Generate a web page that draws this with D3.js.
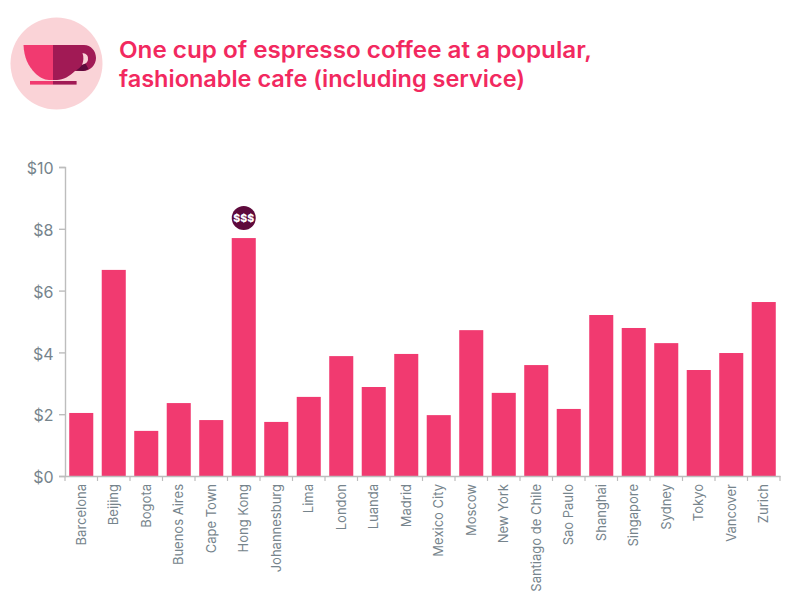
<!DOCTYPE html>
<html><head><meta charset="utf-8">
<script src="https://cdn.jsdelivr.net/npm/d3@7"></script>
<style>html,body{margin:0;padding:0;background:#fff}svg{display:block}</style>
</head><body><svg id="c" width="800" height="600"></svg>
<script>
const titleLines = ["One cup of espresso coffee at a popular,", "fashionable cafe (including service)"];
const cities = ["Barcelona","Beijing","Bogota","Buenos Aires","Cape Town","Hong Kong","Johannesburg","Lima","London","Luanda","Madrid","Mexico City","Moscow","New York","Santiago de Chile","Sao Paulo","Shanghai","Singapore","Sydney","Tokyo","Vancover","Zurich"];
const prices = [2.04,6.67,1.46,2.36,1.81,7.7,1.75,2.56,3.88,2.88,3.95,1.97,4.72,2.69,3.59,2.17,5.21,4.79,4.3,3.43,3.98,5.63];
const yTicks = [0,2,4,6,8,10];
const highlighted = "Hong Kong";
const badge = "$$$";

const svg = d3.select("#c");
const x = d3.scaleBand().domain(cities).range([65,780]).paddingInner(0.26).paddingOuter(0.13);
const y = d3.scaleLinear().domain([0,10]).range([476,167]);
const grey="#bdbdbd", txt="#76848c", font="Inter, 'Noto Sans', sans-serif";

// icon
const icon = svg.append("g");
icon.append("circle").attr("cx",56.5).attr("cy",63.5).attr("r",46).attr("fill","#fad3d7");
icon.append("path").attr("d","M53,45 H23.5 C24,57 28,66 35,73 C39,77 44,80 49,80 H53 Z").attr("fill","#f13a70");
icon.append("path").attr("d","M53,45 H84 C91,45 96,51 96,58 C96,65 90,71 83,71 L75,71 C70,76 63,80 57,80 H53 Z").attr("fill","#a11a55");
icon.append("path").attr("d","M82.5,53 Q89,54 88,60 Q87,64 82,65 Q84.5,59 82.5,53 Z").attr("fill","#fad3d7");
icon.append("path").attr("d","M82,65 Q80,68 76,70.5 L83,71 Q86,70.5 88.5,69 L85.5,63.5 Z").attr("fill","#5e0a3c");
icon.append("rect").attr("x",30).attr("y",81).attr("width",23).attr("height",3.6).attr("fill","#f13a70");
icon.append("rect").attr("x",53).attr("y",81).attr("width",23.6).attr("height",3.6).attr("fill","#a11a55");

// title
const titleWidths = [473,406];
svg.append("g").selectAll("text").data(titleLines).join("text")
  .attr("x",119).attr("y",(d,i)=>58+i*29)
  .attr("textLength",(d,i)=>titleWidths[i]).attr("lengthAdjust","spacingAndGlyphs")
  .attr("fill","#f2295f").attr("font-family",font).attr("font-weight",600).attr("font-size",22.5).text(d=>d);

// bars
svg.append("g").selectAll("rect").data(cities).join("rect")
  .attr("x",d=>x(d)).attr("width",x.bandwidth())
  .attr("y",(d,i)=>y(prices[i])).attr("height",(d,i)=>y(0)-y(prices[i]))
  .attr("fill","#f13a70");

// axes
const yAxis = d3.axisLeft(y).tickValues(yTicks).tickFormat(d=>"$"+d).tickSize(6).tickPadding(5.5);
const gy = svg.append("g").attr("transform","translate(65,0)").call(yAxis);
gy.selectAll("path,line").attr("stroke",grey).attr("stroke-width",1.4);
gy.selectAll("text").attr("fill",txt).attr("font-family",font).attr("font-size",16).attr("dy","0.42em");

const xAxis = d3.axisBottom(x).tickSize(0).tickPadding(0);
const gx = svg.append("g").attr("transform","translate(0,476)").call(xAxis);
gx.select("path").attr("stroke",grey).attr("stroke-width",1.4);
gx.selectAll("text").attr("fill",txt).attr("font-family",font).attr("font-size",13)
  .attr("transform","rotate(-90)").attr("text-anchor","end").attr("dy","0.35em").attr("x",-8).attr("y",0);
svg.append("g").selectAll("line").data(d3.range(cities.length+1)).join("line")
  .attr("x1",i=>65+i*x.step()).attr("x2",i=>65+i*x.step())
  .attr("y1",476).attr("y2",481).attr("stroke",grey).attr("stroke-width",1.2);

// badge
const hx = x(highlighted)+x.bandwidth()/2, hi=cities.indexOf(highlighted);
svg.append("circle").attr("cx",hx).attr("cy",y(prices[hi])-20).attr("r",12).attr("fill","#5e0a3c");
svg.append("text").attr("x",hx).attr("y",y(prices[hi])-16).attr("text-anchor","middle")
  .attr("fill","#fff").attr("font-family",font).attr("font-weight",800).attr("font-size",10.5).text(badge);
</script></body></html>
